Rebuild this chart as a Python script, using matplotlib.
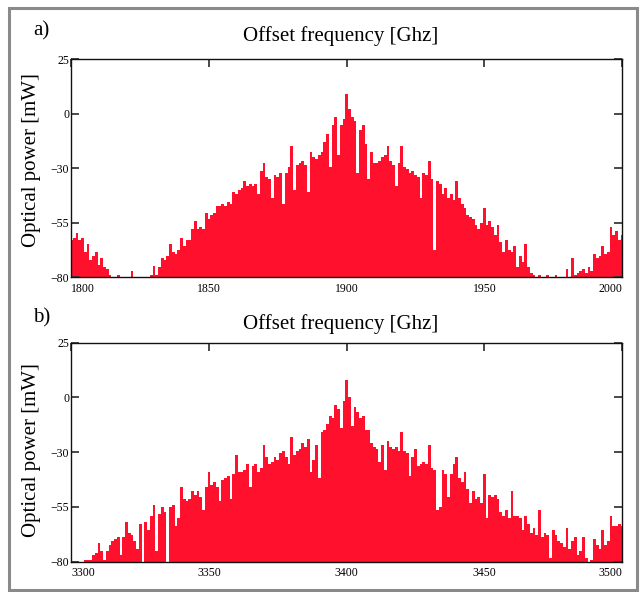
import numpy as np
import matplotlib
matplotlib.use("Agg")
import matplotlib.pyplot as plt
from matplotlib.patches import Rectangle
from matplotlib import font_manager

# ---------------- data ----------------
freq_a = np.arange(1800, 2001)
power_a = [
    -62, -61, -59, -62, -61, -68, -64, -72, -70, -68,
    -74, -71, -75, -76, -79, -80, -80, -79, -80, -80,
    -80, -80, -77, -80, -80, -80, -80, -80, -80, -79,
    -74.5, -79, -75, -71, -72, -70, -64, -68, -69, -67,
    -61, -65, -62, -62, -57, -53, -57, -56, -57, -49,
    -52, -50, -49, -46, -46, -45, -46, -44, -45, -39,
    -40, -38, -37, -34, -36, -35, -36, -35, -40, -29,
    -25, -32, -33, -42, -31, -32, -30, -45, -30, -27,
    -17, -38, -26, -25, -24, -26, -39, -20, -22, -23,
    -21, -20, -15, -11, -27, -7, -3, -21, -7, -4,
    8, 1, -3, -5, -30, -9, -7, -16, -33, -20,
    -25, -25, -24, -22, -21, -17, -24, -26, -36, -25,
    -17, -27, -28, -30, -29, -31, -32, -42, -30, -31,
    -24, -33, -67, -34, -35, -40, -37, -42, -40, -43,
    -34, -42, -45, -47, -50, -51, -52, -55, -57, -54,
    -47, -55, -53, -56, -60, -55, -63, -68, -62, -67,
    -68, -65, -75, -70, -73, -64, -75, -78, -79, -80,
    -79, -80, -80, -79, -80, -80, -79, -80, -80, -80,
    -76, -80, -71, -79, -78, -77, -76, -78, -75, -77,
    -69, -71, -70, -65, -69, -68, -56, -60, -58, -62,
    -60,
]

freq_b = np.arange(3300, 3501)
power_b = [
    -80, -80, -80, -80, -80, -79, -79, -79, -77, -76,
    -71, -75, -79, -75, -72, -70, -69, -68, -77, -68,
    -61, -66, -67, -70, -74, -62, -80, -61, -65, -58,
    -53, -75, -57, -54, -56, -80, -54, -53, -63, -59,
    -44, -50, -51, -50, -46, -48, -46, -49, -55, -44,
    -37, -43, -42, -44, -51, -41, -40, -39, -50, -38,
    -29, -37, -37, -36, -33, -44, -34, -33, -37, -35,
    -24, -30, -33, -32, -30, -31, -28, -27, -30, -33,
    -20, -29, -27, -26, -23, -25, -21, -37, -31, -24,
    -40, -18, -17, -14, -10, -11, -5, -7, -16, -3,
    7, -1, -15, -6, -8, -11, -10, -17, -17, -23,
    -25, -26, -32, -24, -36, -22, -25, -26, -25, -27,
    -18, -27, -28, -39, -30, -26, -34, -33, -32, -33,
    -24, -35, -36, -55, -54, -36, -38, -49, -38, -33,
    -30, -40, -42, -37, -45, -52, -46, -50, -49, -52,
    -38, -59, -48, -49, -48, -50, -56, -58, -55, -59,
    -46, -58, -58, -59, -65, -58, -62, -66, -64, -67,
    -55, -68, -66, -67, -78, -65, -67, -70, -71, -73,
    -64, -74, -70, -68, -77, -75, -68, -78, -80, -79,
    -69, -72, -74, -65, -72, -70, -58, -63, -63, -62,
    -63,
]

xticks_a = [1800, 1850, 1900, 1950, 2000]
xticks_b = [3300, 3350, 3400, 3450, 3500]
ytick_labels = ["\u221280", "\u221255", "\u221230", "0", "25"]
y_min, y_max = -80, 25
panel_labels = ["a)", "b)"]
title_text = "Offset frequency [Ghz]"
ylabel_text = "Optical power [mW]"

# ---------------- fonts ----------------
def pick(families):
    for f in families:
        try:
            font_manager.findfont(f, fallback_to_default=False)
            return f
        except Exception:
            pass
    return "DejaVu Serif"

serif = pick(["Liberation Serif", "DejaVu Serif"])

BAR_COLOR = "#FF102C"

fig = plt.figure(figsize=(6.4, 5.92), dpi=100)
W, H = 640.0, 592.0

def fx(px):
    return px / W

def fy(py):
    return 1 - py / H

panels = [
    dict(freq=freq_a, power=power_a, xt=xticks_a, top=59, bottom=277,
         lab_y=35, title_y=41.5, ylab_y=160),
    dict(freq=freq_b, power=power_b, xt=xticks_b, top=342.7, bottom=561.7,
         lab_y=322.5, title_y=329, ylab_y=450),
]

left_px, right_px = 71.4, 622

for i, p in enumerate(panels):
    ax = fig.add_axes([fx(left_px), fy(p["bottom"]), (right_px - left_px) / W,
                       (p["bottom"] - p["top"]) / H])
    pw = np.asarray(p["power"], dtype=float)
    ax.bar(p["freq"], pw - y_min, bottom=y_min, width=1.0, color=BAR_COLOR,
           linewidth=0, align="center")
    ax.set_xlim(p["xt"][0], p["xt"][-1])
    ax.set_ylim(y_min, y_max)
    ax.set_xticks(p["xt"])
    ax.set_xticklabels([str(v) for v in p["xt"]], fontfamily=serif, fontsize=8.5)
    labs = ax.get_xticklabels()
    labs[0].set_ha("left")
    labs[-1].set_ha("right")
    ax.set_yticks(np.linspace(y_min, y_max, 5))
    ax.set_yticklabels(ytick_labels, fontfamily=serif, fontsize=8.5)
    ax.tick_params(axis="both", direction="in", length=6, width=1.3,
                   color="#3a3a3a", top=True, right=True)
    ax.tick_params(axis="x", bottom=False, pad=4)
    ax.tick_params(axis="y", pad=1.5)
    for s in ax.spines.values():
        s.set_linewidth(1.0)
        s.set_color("#111111")
    fig.text(fx(33), fy(p["lab_y"]), panel_labels[i], fontfamily=serif,
             fontsize=15, ha="left", va="baseline")
    fig.text(fx(341), fy(p["title_y"]), title_text, fontfamily=serif,
             fontsize=15, ha="center", va="baseline")
    fig.text(fx(32), fy(p["ylab_y"]), ylabel_text, fontfamily=serif,
             fontsize=15, ha="center", va="center", rotation=90)

fig.add_artist(Rectangle((fx(9), fy(590)), (637 - 9) / W, (590 - 8) / H,
                         transform=fig.transFigure, fill=False,
                         edgecolor="#8a8a8a", linewidth=2.2))

fig.savefig("out.png", dpi=100)
